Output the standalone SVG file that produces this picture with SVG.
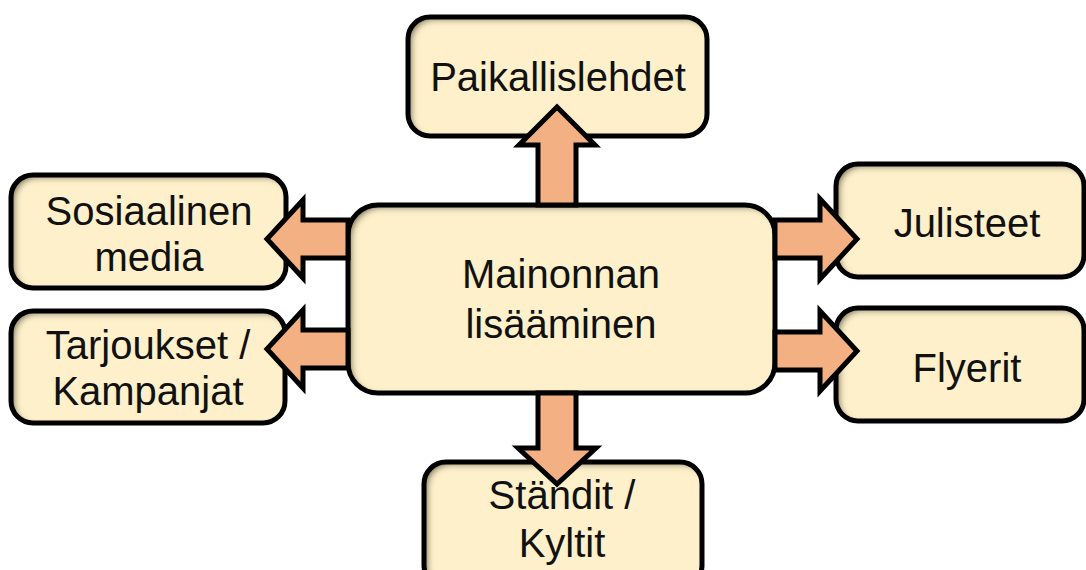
<svg xmlns="http://www.w3.org/2000/svg" width="1086" height="570" viewBox="0 0 1086 570">
  <style>
    .box { fill: #FDF0CB; filter: url(#inset); }
    .edge { fill: none; stroke: #000; stroke-width: 5; }
    .arrow { fill: #F3B183; stroke: #000; stroke-width: 5; stroke-linejoin: miter; }
    text { font-family: "Liberation Sans", Arial, sans-serif; font-size: 40px; fill: #111; text-anchor: middle; }
  </style>
  <defs>
    <!-- soft inner shadow along the top-left inside edge of each box -->
    <filter id="inset" x="-5%" y="-5%" width="110%" height="110%">
      <feComponentTransfer in="SourceAlpha" result="inv">
        <feFuncA type="table" tableValues="1 0"/>
      </feComponentTransfer>
      <feGaussianBlur in="inv" stdDeviation="3"/>
      <feOffset dx="4" dy="3" result="off"/>
      <feFlood flood-color="#4a3c18" flood-opacity="0.9"/>
      <feComposite in2="off" operator="in"/>
      <feComposite in2="SourceAlpha" operator="in" result="shadow"/>
      <feMerge>
        <feMergeNode in="SourceGraphic"/>
        <feMergeNode in="shadow"/>
      </feMerge>
    </filter>
  </defs>
  <rect width="1086" height="570" fill="#fff"/>

  <g id="paikallislehdet">
    <rect class="box" x="408" y="17" width="299" height="119" rx="22"/>
    <rect class="edge" x="408" y="17" width="299" height="119" rx="22"/>
    <text x="558" y="91">Paikallislehdet</text>
  </g>

  <g id="sosiaalinen-media">
    <rect class="box" x="11" y="175" width="275" height="113" rx="22"/>
    <rect class="edge" x="11" y="175" width="275" height="113" rx="22"/>
    <text x="149" y="225">Sosiaalinen</text>
    <text x="149" y="271">media</text>
  </g>

  <g id="tarjoukset">
    <rect class="box" x="11" y="311" width="274" height="112" rx="22"/>
    <rect class="edge" x="11" y="311" width="274" height="112" rx="22"/>
    <text x="148" y="359">Tarjoukset /</text>
    <text x="148" y="405">Kampanjat</text>
  </g>

  <g id="julisteet">
    <rect class="box" x="836" y="164" width="248" height="113" rx="22"/>
    <rect class="edge" x="836" y="164" width="248" height="113" rx="22"/>
    <text x="967" y="237">Julisteet</text>
  </g>

  <g id="flyerit">
    <rect class="box" x="836" y="308" width="248" height="113" rx="22"/>
    <rect class="edge" x="836" y="308" width="248" height="113" rx="22"/>
    <text x="967" y="382">Flyerit</text>
  </g>

  <g id="standit">
    <rect class="box" x="424" y="462" width="278" height="125" rx="22"/>
    <rect class="edge" x="424" y="462" width="278" height="125" rx="22"/>
    <text x="562" y="509">Ständit /</text>
    <text x="562" y="557">Kyltit</text>
  </g>

  <g id="mainonnan-lisaaminen">
    <rect class="box" x="348" y="205" width="427" height="188" rx="30"/>
    <rect class="edge" x="348" y="205" width="427" height="188" rx="30"/>
    <text x="561" y="288">Mainonnan</text>
    <text x="561" y="338">lisääminen</text>
  </g>

  <g id="connectors">
    <polygon class="arrow" points="538,205 538,145 519,145 557,107 595,145 576,145 576,205"/>
    <polygon class="arrow" points="538,393 538,448 518,448 557,484 596,448 576,448 576,393"/>
    <polygon class="arrow" points="348,220 303,220 303,200 267,239 303,278 303,258 348,258"/>
    <polygon class="arrow" points="348,330 303,330 303,310 267,349 303,388 303,368 348,368"/>
    <polygon class="arrow" points="775,220 820,220 820,199 857,239 820,279 820,258 775,258"/>
    <polygon class="arrow" points="775,332 820,332 820,311 857,351 820,391 820,370 775,370"/>
  </g>
</svg>
